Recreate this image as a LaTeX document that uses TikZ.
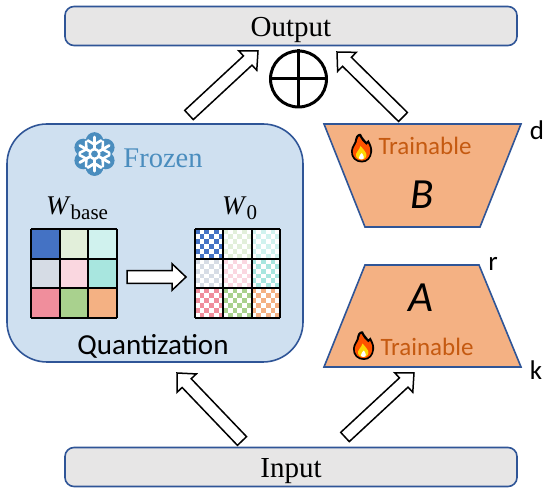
\documentclass[tikz,border=0pt]{standalone}
\usepackage{fontspec}
\setmainfont{Liberation Serif}
\newfontfamily\carl{Carlito}
\usetikzlibrary{calc}
\definecolor{edgeblue}{HTML}{2F5597}
\definecolor{boxgray}{HTML}{E7E6E6}
\definecolor{frozenfill}{HTML}{CFE0F0}
\definecolor{frozentext}{HTML}{4A8DBE}
\definecolor{trainfill}{HTML}{F4B183}
\definecolor{traintext}{HTML}{C55A11}
\definecolor{cA}{HTML}{4472C4}\definecolor{cB}{HTML}{E2EFDA}\definecolor{cC}{HTML}{D0F2EE}
\definecolor{cD}{HTML}{D6DCE5}\definecolor{cE}{HTML}{FAD7E0}\definecolor{cF}{HTML}{A8E6DF}
\definecolor{cG}{HTML}{F08E9C}\definecolor{cH}{HTML}{A9D18E}\definecolor{cI}{HTML}{F4B183}
\newcommand{\fs}[1]{\fontsize{#1}{#1}\selectfont}
\tikzset{
  iobox/.style={draw=edgeblue,fill=boxgray,line width=1.6pt,rounded corners=9pt,minimum height=39pt,inner sep=0pt,font=\fs{29},text height=24pt,text depth=2pt},
  trap/.style={draw=edgeblue,fill=trainfill,line width=1.6pt,line join=miter},
  blk/.style={draw=black,fill=white,line width=1.5pt,line join=miter},
  gridline/.style={draw=black,line width=2pt},
  trainlabel/.style={text=traintext,font=\carl\fs{25},inner sep=0pt},
  sidelabel/.style={font=\carl\fs{27},inner sep=0pt},
  letterlabel/.style={font=\carl\itshape\fs{43},inner sep=0pt},
  flame/.pic={
    \path[fill=black] (0.5,14.5) .. controls (-6,14.5) and (-11,10) .. (-10.5,3) .. controls (-10.2,-2) and (-6.5,-4) .. (-6,-10) .. controls (-5.5,-13) and (-2,-15) .. (-0.5,-14) .. controls (1,-10) and (3,-9) .. (5,-6) .. controls (6,-7) and (6.5,-8) .. (7,-8) .. controls (10,-3) and (11,1) .. (10.5,4) .. controls (10,10) and (6,14.5) .. (0.5,14.5) -- cycle;
    \path[fill=orange!65!red] (0.5,12.7) .. controls (-5,12.7) and (-9,9) .. (-8.7,3) .. controls (-8.4,-1) and (-4.5,-4) .. (-4,-9) .. controls (-3.5,-11) and (-2.5,-12) .. (-2,-11.5) .. controls (-1,-8) and (2,-6) .. (5,-3) .. controls (6,-4) and (6.5,-4.5) .. (6.5,-4.5) .. controls (8.5,-1) and (9,1) .. (8.7,4) .. controls (8.4,9) and (5,12.7) .. (0.5,12.7) -- cycle;
    \path[fill=yellow!75!orange] (0,11.5) .. controls (-4,11.5) and (-6,9) .. (-5.5,6) .. controls (-5,3.5) and (-2,2) .. (-1,-2) .. controls (1,0) and (3,2.5) .. (4.5,5) .. controls (6,8) and (4,11.5) .. (0,11.5) -- cycle;
    \path[fill=white] (0,11.5) .. controls (-3,11.5) and (-3.5,8.5) .. (-1.5,7) .. controls (-0.8,6.3) and (0,5.5) .. (0.3,5) .. controls (2,7) and (4,11.5) .. (0,11.5) -- cycle;
  },
  snowflake/.pic={
    \foreach \a in {90,150,...,450} {
      \path[fill=frozentext] (\a:13) circle[radius=8.8];
      \path[fill=frozentext] (0,0) circle[radius=12];
    }
    \foreach \a in {90,150,...,450} {
      \draw[white,line width=2.8pt,line cap=round] (\a:6) -- (\a:17);
      \draw[white,line width=2.6pt,line cap=round] (\a+26:15) -- (\a:9.5) -- (\a-26:15);
    }
    \path[fill=white] (0,0) circle[radius=6];
    \path[fill=frozentext] (0,0) circle[radius=3.4];
  }
}
\newcommand{\blockarrow}[2]{%
  \coordinate (h) at ($(#2)!14pt!(#1)$);
  \path[blk] ($(#1)!6.3pt!90:(#2)$) -- ($(h)!6.3pt!90:(#2)$) -- ($(h)!13.3pt!90:(#2)$) -- (#2)
    -- ($(h)!13.3pt!-90:(#2)$) -- ($(h)!6.3pt!-90:(#2)$) -- ($(#1)!6.3pt!-90:(#2)$) -- cycle;}
\begin{document}
\begin{tikzpicture}[x=1pt,y=-1pt]
\useasboundingbox (0,0) rectangle (550,494);
% boxes
\node[iobox,minimum width=452pt] (output) at (291,26) {Output};
\node[iobox,minimum width=452pt] (input) at (291,467) {Input};
\node[draw=edgeblue,fill=frozenfill,line width=1.6pt,rounded corners=40pt,minimum width=296pt,minimum height=238pt,inner sep=0pt] (frozen) at (155,243) {};
% trapezoids
\draw[trap] (324,124) -- (521,124) -- (480,227) -- (365,227) -- cycle;
\draw[trap] (365,265) -- (479,265) -- (521,367) -- (324,367) -- cycle;
% oplus
\node[draw=black,line width=3pt,circle,minimum size=56pt,inner sep=0pt] (plus) at (298.5,79) {};
\draw[black,line width=3pt] (plus.north) -- (plus.south);
\draw[black,line width=3pt] (plus.west) -- (plus.east);
% frozen label
\pic at (94.5,154) {snowflake};
\node[text=frozentext,font=\fs{28.5},inner sep=0pt] (frozenlabel) at (163,158) {Frozen};
% W labels
\node[font=\fs{27},inner sep=0pt,anchor=base west] (wbase) at (46,215) {\textit{W}\raisebox{-5pt}{\fs{21}base}};
\node[font=\fs{27},inner sep=0pt,anchor=base west] (wzero) at (222,215) {\textit{W}\raisebox{-5pt}{\fs{21}0}};
% plain grid
\foreach \c/\r/\col in {0/0/cA,1/0/cB,2/0/cC,0/1/cD,1/1/cE,2/1/cF,0/2/cG,1/2/cH,2/2/cI} {
  \path[fill=\col] (31+\c*28.67,229+\r*29.67) rectangle ++(28.67,29.67);
}
% checker grid
\path[fill=white] (195,229) rectangle (280,318);
\foreach \c/\r/\col in {0/0/cA,1/0/cB,2/0/cC,0/1/cD,1/1/cE,2/1/cF,0/2/cG,1/2/cH,2/2/cI} {
  \foreach \i in {0,...,5} { \foreach \j in {0,...,5} {
    \pgfmathparse{int(mod(\i+\j,2))}
    \ifnum\pgfmathresult=0
      \path[fill=\col] (195+\c*28.33+\i*4.72,229+\r*29.67+\j*4.945) rectangle ++(4.72,4.945);
    \fi
  }}
}
\foreach \k in {0,1,2,3} {
  \draw[gridline] (31+\k*28.67,229) -- (31+\k*28.67,318);
  \draw[gridline] (31,229+\k*29.67) -- (117,229+\k*29.67);
  \draw[gridline] (195+\k*28.33,229) -- (195+\k*28.33,318);
  \draw[gridline] (195,229+\k*29.67) -- (280,229+\k*29.67);
}
\node[font=\carl\fs{29},inner sep=0pt] (quant) at (153,346) {Quantization};
% trainable
\pic at (361.5,148) {flame};
\node[trainlabel] (trainb) at (425,146) {Trainable};
\node[letterlabel] (letb) at (422,195) {B};
\pic at (363.5,345.5) {flame};
\node[trainlabel] (traina) at (427,347) {Trainable};
\node[letterlabel] (leta) at (421,298) {A};
\node[sidelabel] (d) at (537,130) {d};
\node[sidelabel] (r) at (493,264) {r};
\node[sidelabel] (k) at (536,370) {k};
% arrows
\coordinate (t1) at (189,115); \coordinate (h1) at (258,51);
\coordinate (t2) at (403,117); \coordinate (h2) at (337,52);
\coordinate (t3) at (242,441); \coordinate (h3) at (177,373);
\coordinate (t4) at (345,437); \coordinate (h4) at (414,373);
\coordinate (t5) at (127,277); \coordinate (h5) at (186,277);
\blockarrow{t1}{h1}
\blockarrow{t2}{h2}
\blockarrow{t3}{h3}
\blockarrow{t4}{h4}
\blockarrow{t5}{h5}
\end{tikzpicture}
\end{document}
